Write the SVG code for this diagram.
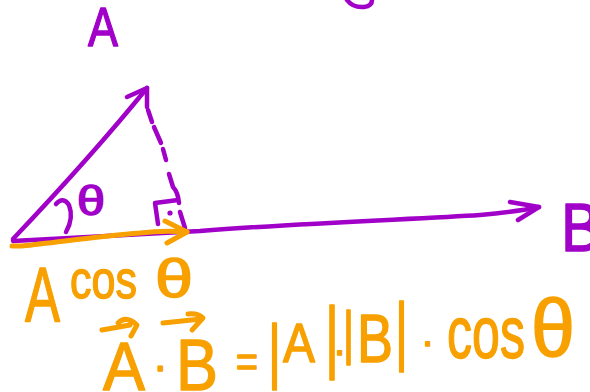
<svg xmlns="http://www.w3.org/2000/svg" width="590" height="392" viewBox="0 0 590 392">
<style>
.pl{fill:none;stroke:#A000C8;stroke-width:4.5;stroke-linecap:round;stroke-linejoin:round}
.ol{fill:none;stroke:#F7A000;stroke-width:5;stroke-linecap:round;stroke-linejoin:round}
.pt{fill:#A000C8;stroke:#A000C8;stroke-width:1.4;stroke-linejoin:round;font-family:"Liberation Sans","DejaVu Sans",sans-serif}
.ot{fill:#F7A000;stroke:#F7A000;stroke-width:1.4;stroke-linejoin:round;font-family:"Liberation Sans","DejaVu Sans",sans-serif}
.bar{stroke-width:1.6}
</style>
<rect width="590" height="392" fill="#fff"/>
<g id="connectors">
  <path class="pl" d="M13,239 C50,200 95,152 147,88"/>
  <path class="pl" d="M127,97 L147,88 L147,107"/>
  <path class="pl" d="M148,110 L152,122 M154,127 L161,143 M163,149 L166,160 M169,174 L173,187 Q178,192 179,203"/>
  <path class="pl" d="M178,200 L155,203 L158,224 M180,212 L185,228"/>
  <circle cx="170" cy="213" r="2.6" fill="#A000C8"/>
  <path class="pl" d="M13,241 L200,231 C300,223 420,219 480,215 Q515,212 539,207"/>
  <path class="pl" d="M510,202 L539,207 L518,220"/>
  <path class="pl" d="M56,204 Q63,196 69,205 Q74,218 66,232"/>
  <path class="pl" d="M347,0 Q353,8 364,7 Q372,6 372,0"/>
  <path class="ol" d="M12,246 L22,246 C60,242 100,236 140,233 Q165,230 187,232"/>
  <path class="ol" d="M165,221 L187,232 L167,243"/>
  <path class="ol" d="M102,330 L130,325 M118,323 Q126,315 137,325 L131,336"/>
  <path class="ol" d="M163,323 L201,319 M188,314 Q198,313 203,318 L192,330"/>
</g>
<g id="label-A"><text class="pt" x="88" y="46" font-size="56" textLength="30" lengthAdjust="spacingAndGlyphs">A</text></g>
<g id="label-B"><text class="pt" x="561" y="251" font-size="68" textLength="40" lengthAdjust="spacingAndGlyphs">B</text></g>
<g id="label-theta"><text class="pt" x="77" y="215" font-size="40" textLength="28" lengthAdjust="spacingAndGlyphs">θ</text></g>
<g id="label-Acos">
  <text class="ot" x="25" y="322" font-size="78" textLength="35" lengthAdjust="spacingAndGlyphs">A</text>
  <text class="ot" x="70" y="298" font-size="54" textLength="67" lengthAdjust="spacingAndGlyphs">cos</text>
  <text class="ot" x="155" y="297" font-size="53" textLength="38" lengthAdjust="spacingAndGlyphs">θ</text>
</g>
<g id="equation">
  <text class="ot" x="103" y="390" font-size="68" textLength="42" lengthAdjust="spacingAndGlyphs">A</text>
  <text class="ot" x="153" y="381" font-size="44">·</text>
  <text class="ot" x="176" y="390" font-size="72" textLength="42" lengthAdjust="spacingAndGlyphs">B</text>
  <text class="ot" x="236" y="376" font-size="42" textLength="22" lengthAdjust="spacingAndGlyphs">=</text>
  <text class="ot bar" x="268" y="375" font-size="72" textLength="13" lengthAdjust="spacingAndGlyphs">|</text>
  <text class="ot" x="283" y="362" font-size="56" textLength="32" lengthAdjust="spacingAndGlyphs">A</text>
  <text class="ot bar" x="325" y="363" font-size="80" textLength="14" lengthAdjust="spacingAndGlyphs">|</text>
  <text class="ot" x="333" y="364" font-size="40">·</text>
  <text class="ot bar" x="343" y="353" font-size="60" textLength="11" lengthAdjust="spacingAndGlyphs">|</text>
  <text class="ot" x="357" y="362" font-size="68" textLength="36" lengthAdjust="spacingAndGlyphs">B</text>
  <text class="ot bar" x="395" y="356" font-size="76" textLength="13" lengthAdjust="spacingAndGlyphs">|</text>
  <text class="ot" x="421" y="355" font-size="40">·</text>
  <text class="ot" x="447" y="358" font-size="75" textLength="78" lengthAdjust="spacingAndGlyphs">cos</text>
  <text class="ot" x="531" y="356" font-size="81" textLength="44" lengthAdjust="spacingAndGlyphs">θ</text>
</g>
</svg>
